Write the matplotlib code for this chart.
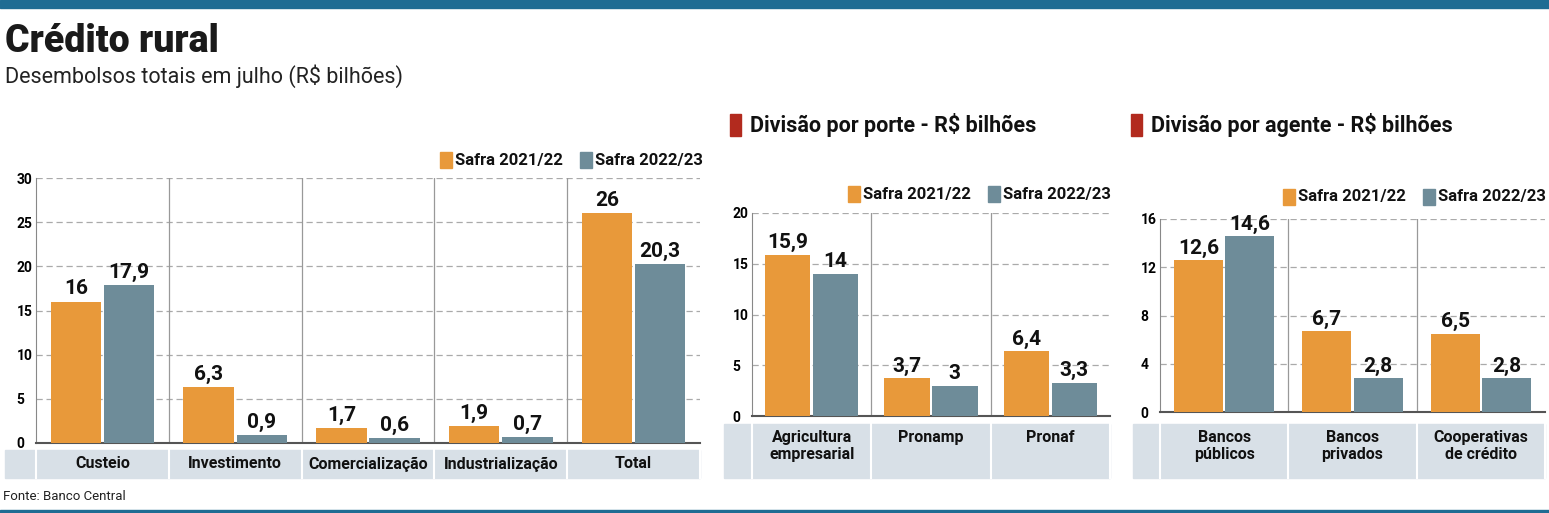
import matplotlib.pyplot as plt
from matplotlib.patches import Rectangle

# dados
cat1 = ["Custeio", "Investimento", "Comercialização", "Industrialização", "Total"]
s21_1 = [16, 6.3, 1.7, 1.9, 26]
s22_1 = [17.9, 0.9, 0.6, 0.7, 20.3]

cat2 = ["Agricultura\nempresarial", "Pronamp", "Pronaf"]
s21_2 = [15.9, 3.7, 6.4]
s22_2 = [14, 3, 3.3]

cat3 = ["Bancos\npúblicos", "Bancos\nprivados", "Cooperativas\nde crédito"]
s21_3 = [12.6, 6.7, 6.5]
s22_3 = [14.6, 2.8, 2.8]

ORANGE = "#E8993A"
GRAY = "#6E8C99"
BAND = "#D8E0E7"
BLUE = "#1F6C93"
FONT = ["Liberation Sans Narrow", "Roboto", "DejaVu Sans"]
plt.rcParams["font.family"] = FONT

W, H = 1549, 513
fig = plt.figure(figsize=(W / 100, H / 100), dpi=100)


def px_axes(x0, y0, x1, y1, **kw):
    return fig.add_axes([x0 / W, 1 - y1 / H, (x1 - x0) / W, (y1 - y0) / H], **kw)


def fig_text(x, y, s, **kw):
    fig.text(x / W, 1 - y / H, s, **kw)


# faixas azuis
fig.patches.append(Rectangle((0, 1 - 8 / H), 1, 8 / H, color=BLUE, transform=fig.transFigure))
fig.patches.append(Rectangle((0, 0), 1, 3 / H, color=BLUE, transform=fig.transFigure))

fig_text(5, 42, "Crédito rural", fontsize=27, fontweight="black", va="center", family=["Roboto", "DejaVu Sans"], color="#1a1a1a")
fig_text(5, 76, "Desembolsos totais em julho (R$ bilhões)", fontsize=15.5, va="center", family=["Roboto", "DejaVu Sans"], color="#222")
fig_text(3, 497, "Fonte: Banco Central", fontsize=9.5, va="center", color="#222")


def chart(box, band, cats, a, b, ymax, ticks, legend_y, legend_x, head=None, label_top=None):
    x0, y0, x1, y1 = box
    # faixa das categorias
    bx0, by0, by1 = band
    fig.patches.append(Rectangle((bx0 / W, 1 - by1 / H), (x1 - bx0) / W, (by1 - by0) / H,
                                 color=BAND, transform=fig.transFigure, zorder=0))
    n = len(cats)
    cw = (x1 - x0) / n
    for i, c in enumerate(cats):
        if label_top:
            fig_text(x0 + cw * (i + 0.5), label_top, c, ha="center", va="top",
                     fontsize=11.5, fontweight="bold", color="#111", linespacing=1.15)
        else:
            fig_text(x0 + cw * (i + 0.5), (by0 + by1) / 2, c, ha="center", va="center",
                     fontsize=11.5, fontweight="bold", color="#111")
    for i in range(n + 1):
        xx = x0 + cw * i
        fig.lines.append(plt.Line2D([xx / W] * 2, [1 - by1 / H, 1 - by0 / H], color="white",
                                    lw=1.5, transform=fig.transFigure))
    ax = px_axes(x0, y0, x1, y1)
    xs = range(n)
    ax.bar([x - 0.2 for x in xs], a, width=0.38, color=ORANGE, zorder=3)
    ax.bar([x + 0.2 for x in xs], b, width=0.38, color=GRAY, zorder=3)
    for x, v in zip(xs, a):
        ax.text(x - 0.2, v + ymax * 0.012, f"{v:g}".replace(".", ","), ha="center", va="bottom",
                fontsize=15, fontweight="bold", color="#111")
    for x, v in zip(xs, b):
        ax.text(x + 0.2, v + ymax * 0.012, f"{v:g}".replace(".", ","), ha="center", va="bottom",
                fontsize=15, fontweight="bold", color="#111")
    ax.set_xlim(-0.5, n - 0.5)
    ax.set_ylim(0, ymax)
    ax.set_yticks(ticks)
    ax.set_yticklabels([str(t) for t in ticks], fontsize=10, fontweight="bold")
    ax.tick_params(axis="y", length=0, pad=14)
    for lab in ax.get_yticklabels():
        lab.set_horizontalalignment("left")
    ax.set_xticks([])
    for t in ticks[1:]:
        ax.axhline(t, color="#aaaaaa", lw=0.9, ls=(0, (5, 3)), zorder=1)
    for i in range(1, n):
        ax.axvline(i - 0.5, color="#999", lw=0.9, zorder=1)
    for s in ["top", "right"]:
        ax.spines[s].set_visible(False)
    ax.spines["left"].set_color("#888")
    ax.spines["bottom"].set_color("#555")
    ax.spines["bottom"].set_linewidth(1.5)
    # legenda
    lx = legend_x
    for col, lab in [(ORANGE, "Safra 2021/22"), (GRAY, "Safra 2022/23")]:
        fig.patches.append(Rectangle((lx / W, 1 - (legend_y + 8) / H), 12 / W, 16 / H,
                                     color=col, transform=fig.transFigure))
        fig_text(lx + 15, legend_y, lab, fontsize=12, fontweight="bold", va="center", color="#111")
        lx += 140
    if head:
        hx, hy, txt = head
        fig.patches.append(Rectangle((hx / W, 1 - (hy + 11) / H), 11 / W, 22 / H,
                                     color="#B22A1E", transform=fig.transFigure))
        fig_text(hx + 20, hy, txt, fontsize=15.5, fontweight="bold", va="center", color="#111")
    return ax


chart((36, 178, 700, 443), (5, 450, 478), cat1, s21_1, s22_1, 30, [0, 5, 10, 15, 20, 25, 30], 160, 440)
chart((752, 213, 1110, 416), (724, 424, 478), cat2, s21_2, s22_2, 20, [0, 5, 10, 15, 20], 194, 848,
      head=(730, 125, "Divisão por porte - R$ bilhões"), label_top=430)
chart((1160, 219, 1545, 412), (1133, 424, 478), cat3, s21_3, s22_3, 16, [0, 4, 8, 12, 16], 197, 1283,
      head=(1131, 125, "Divisão por agente - R$ bilhões"), label_top=430)

fig.savefig("out.png", dpi=100)
